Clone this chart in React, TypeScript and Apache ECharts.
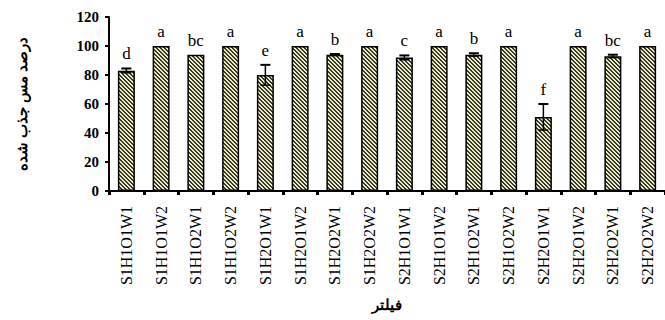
import React, { useEffect, useRef } from "react";
import * as echarts from "echarts";

const categories = [
  "S1H1O1W1", "S1H1O1W2", "S1H1O2W1", "S1H1O2W2",
  "S1H2O1W1", "S1H2O1W2", "S1H2O2W1", "S1H2O2W2",
  "S2H1O1W1", "S2H1O1W2", "S2H1O2W1", "S2H1O2W2",
  "S2H2O1W1", "S2H2O1W2", "S2H2O2W1", "S2H2O2W2",
];
const values = [83, 100, 94, 100, 80, 100, 94, 100, 92, 100, 94, 100, 51, 100, 93, 100];
const errors = [1.5, 0, 0, 0, 7, 0, 0.5, 0, 1.5, 0, 1, 0, 9, 0, 1, 0];
const letters = ["d", "a", "bc", "a", "e", "a", "b", "a", "c", "a", "b", "a", "f", "a", "bc", "a"];
const yTicks = [0, 20, 40, 60, 80, 100, 120];

const SERIF = "'Liberation Serif', 'Times New Roman', 'DejaVu Serif', serif";

function makePattern(): HTMLCanvasElement {
  const c = document.createElement("canvas");
  c.width = 4;
  c.height = 4;
  const ctx = c.getContext("2d")!;
  ctx.fillStyle = "#ecebd6";
  ctx.fillRect(0, 0, 4, 4);
  ctx.fillStyle = "#3a391a";
  for (let i = 0; i < 4; i++) {
    ctx.fillRect(i, i, 1, 1);
    ctx.fillRect((i + 1) % 4, i, 1, 1);
  }
  return c;
}

export default function App() {
  const ref = useRef<HTMLDivElement>(null);
  useEffect(() => {
    document.body.style.margin = "0";
    if (!ref.current) return;
    const chart = echarts.init(ref.current, undefined, { renderer: "svg" });
    const pattern = makePattern();
    chart.setOption({
      animation: false,
      backgroundColor: "#ffffff",
      grid: { left: 109, right: 0, top: 17, bottom: 129, containLabel: false },
      xAxis: {
        type: "category",
        data: categories,
        boundaryGap: true,
        name: "فیلتر",
        nameLocation: "middle",
        nameGap: 106,
        nameTextStyle: { fontFamily: SERIF, fontWeight: "bold", fontSize: 15, color: "#000" },
        axisLine: { lineStyle: { color: "#000", width: 2 } },
        axisTick: { show: true, length: 4, lineStyle: { color: "#000", width: 3 }, alignWithLabel: false },
        axisLabel: {
          rotate: 90,
          margin: 15,
          fontFamily: SERIF,
          fontSize: 16,
          color: "#000",
          interval: 0,
        },
      },
      yAxis: {
        type: "value",
        min: 0,
        max: 120,
        interval: 20,
        name: "درصد مس جذب شده",
        nameLocation: "middle",
        nameGap: 80,
        nameRotate: 90,
        nameTextStyle: { fontFamily: SERIF, fontWeight: "bold", fontSize: 15, color: "#000" },
        splitLine: { show: false },
        axisLine: { show: true, lineStyle: { color: "#000", width: 2 } },
        axisTick: { show: true, length: 4, lineStyle: { color: "#000", width: 2 } },
        axisLabel: {
          margin: 10,
          fontFamily: SERIF,
          fontWeight: "bold",
          fontSize: 15,
          color: "#000",
          formatter: (v: number) => (yTicks.includes(v) ? String(v) : ""),
        },
      },
      series: [
        {
          type: "bar",
          data: values,
          barWidth: 17,
          itemStyle: {
            color: { image: pattern, repeat: "repeat" },
            borderColor: "#000",
            borderWidth: 1.5,
          },
          z: 2,
        },
        {
          type: "custom",
          data: values.map((v, i) => [i, v, errors[i]]),
          z: 3,
          renderItem: (params: any, api: any) => {
            const i = api.value(0);
            const v = api.value(1);
            const e = api.value(2);
            const top = api.coord([i, v + e]);
            const bot = api.coord([i, v - e]);
            const x = top[0];
            const children: any[] = [];
            if (e > 0) {
              const lw = { stroke: "#000", lineWidth: 1.5 };
              children.push(
                { type: "line", shape: { x1: x, y1: top[1], x2: x, y2: bot[1] }, style: lw },
                { type: "line", shape: { x1: x - 5, y1: top[1], x2: x + 5, y2: top[1] }, style: { stroke: "#000", lineWidth: 2 } },
                { type: "line", shape: { x1: x - 5, y1: bot[1], x2: x + 5, y2: bot[1] }, style: lw }
              );
            }
            children.push({
              type: "text",
              style: {
                x: x,
                y: top[1] - 6,
                text: letters[params.dataIndex],
                align: "center",
                verticalAlign: "bottom",
                fontFamily: SERIF,
                fontSize: 17,
                fill: "#000",
              },
            });
            return { type: "group", children };
          },
        },
      ],
    });
    return () => chart.dispose();
  }, []);
  return <div ref={ref} style={{ width: 665, height: 320 }} />;
}
